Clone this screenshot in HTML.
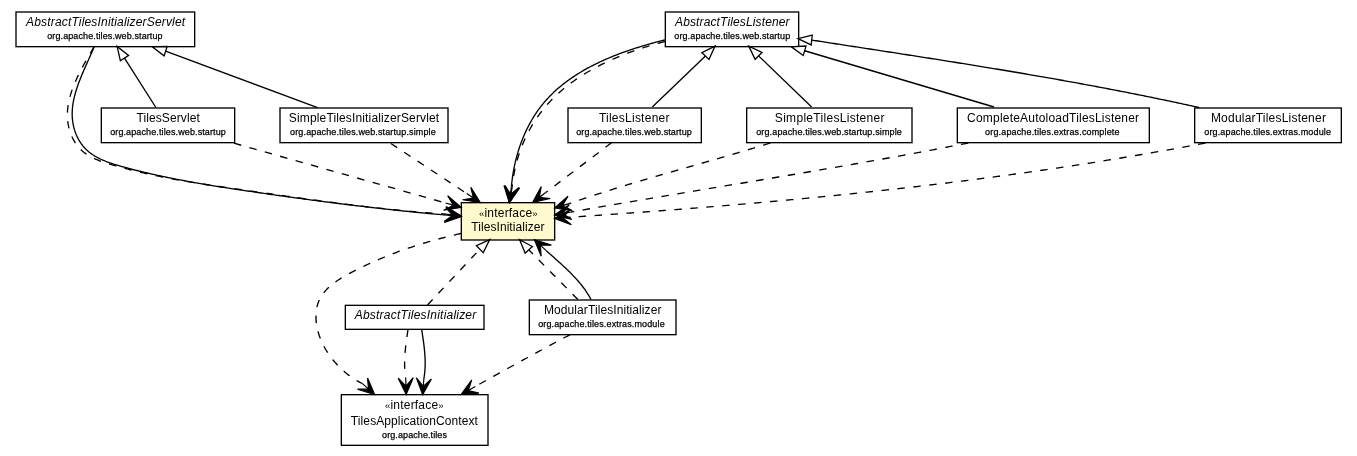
<!DOCTYPE html>
<html><head><meta charset="utf-8"><style>
html,body{margin:0;padding:0;background:#fff;}
svg{display:block;will-change:transform;}
text{font-family:"Liberation Sans",sans-serif;text-anchor:middle;fill:#000;}
.n{font-size:12px;}
.i{font-size:12px;font-style:italic;}
.g{font-size:9.5px;}
.p{font-size:9px;stroke:#000;stroke-width:0.25px;}
.es{fill:none;stroke:#000;stroke-width:1.333;}
.ed{fill:none;stroke:#000;stroke-width:1.333;stroke-dasharray:7.5 8.5;}
.v{fill:#000;stroke:#000;stroke-width:1.2;stroke-linejoin:miter;}
.t{fill:#fff;stroke:#000;stroke-width:1.3;stroke-linejoin:miter;}
</style></head><body>
<svg width="1357" height="456" viewBox="0 0 1357 456">
<rect x="16.000" y="12.000" width="178.667" height="34.667" fill="#fff" stroke="#000" stroke-width="1.333"/>
<rect x="101.333" y="108.000" width="133.333" height="34.667" fill="#fff" stroke="#000" stroke-width="1.333"/>
<rect x="280.000" y="108.000" width="168.000" height="34.667" fill="#fff" stroke="#000" stroke-width="1.333"/>
<rect x="665.333" y="12.000" width="133.333" height="34.667" fill="#fff" stroke="#000" stroke-width="1.333"/>
<rect x="568.000" y="108.000" width="133.333" height="34.667" fill="#fff" stroke="#000" stroke-width="1.333"/>
<rect x="746.667" y="108.000" width="165.333" height="34.667" fill="#fff" stroke="#000" stroke-width="1.333"/>
<rect x="957.333" y="108.000" width="192.000" height="34.667" fill="#fff" stroke="#000" stroke-width="1.333"/>
<rect x="1194.667" y="108.000" width="146.667" height="34.667" fill="#fff" stroke="#000" stroke-width="1.333"/>
<rect x="461.333" y="202.667" width="93.333" height="37.333" fill="#FFFACD" stroke="#000" stroke-width="1.333"/>
<rect x="345.333" y="305.333" width="138.667" height="24.000" fill="#fff" stroke="#000" stroke-width="1.333"/>
<rect x="529.333" y="300.000" width="146.667" height="34.667" fill="#fff" stroke="#000" stroke-width="1.333"/>
<rect x="341.333" y="394.667" width="146.667" height="50.667" fill="#fff" stroke="#000" stroke-width="1.333"/>
<path class="es" d="M94.00,47.00 L93.49,48.27 L92.96,49.56 L92.42,50.85 L91.86,52.16 L91.30,53.48 L90.72,54.81 L90.13,56.14 L89.53,57.49 L88.93,58.85 L88.31,60.21 L87.70,61.59 L87.08,62.97 L86.45,64.36 L85.83,65.76 L85.21,67.17 L84.58,68.59 L83.96,70.01 L83.34,71.44 L82.73,72.87 L82.12,74.31 L81.52,75.76 L80.92,77.21 L80.34,78.67 L79.76,80.13 L79.20,81.60 L78.65,83.07 L78.12,84.55 L77.60,86.03 L77.09,87.51 L76.60,89.00 L76.14,90.48 L75.69,91.98 L75.26,93.47 L74.86,94.97 L74.48,96.46 L74.12,97.96 L73.79,99.46 L73.49,100.97 L73.21,102.47 L72.97,103.97 L72.75,105.47 L72.57,106.97 L72.42,108.48 L72.31,109.98 L72.23,111.47 L72.18,112.97 L72.18,114.47 L72.21,115.96 L72.29,117.45 L72.40,118.94 L72.56,120.42 L72.75,121.90 L72.99,123.37 L73.26,124.83 L73.58,126.28 L73.93,127.72 L74.32,129.14 L74.75,130.55 L75.22,131.95 L75.73,133.33 L76.28,134.69 L76.87,136.03 L77.49,137.34 L78.15,138.64 L78.85,139.91 L79.58,141.16 L80.35,142.38 L81.16,143.57 L82.01,144.73 L82.89,145.86 L83.81,146.96 L84.76,148.03 L85.75,149.06 L86.78,150.05 L87.84,151.01 L88.93,151.93 L90.05,152.82 L91.21,153.67 L92.40,154.50 L93.61,155.29 L94.85,156.06 L96.12,156.79 L97.41,157.50 L98.72,158.19 L100.05,158.85 L101.41,159.48 L102.78,160.09 L104.18,160.68 L105.59,161.25 L107.01,161.81 L108.45,162.34 L109.90,162.86 L111.36,163.36 L112.84,163.85 L114.32,164.32 L115.81,164.78 L117.30,165.23 L118.81,165.67 L120.31,166.10 L121.82,166.52 L123.33,166.94 L124.84,167.35 L126.34,167.76 L127.85,168.16 L129.35,168.56 L130.86,168.95 L132.36,169.34 L133.86,169.73 L135.36,170.11 L136.86,170.48 L138.36,170.86 L139.85,171.23 L141.35,171.59 L142.84,171.96 L144.34,172.31 L145.83,172.67 L147.32,173.02 L148.81,173.37 L150.30,173.71 L151.79,174.05 L153.28,174.39 L154.76,174.72 L156.25,175.05 L157.73,175.38 L159.22,175.70 L160.70,176.02 L162.18,176.34 L163.67,176.65 L165.15,176.96 L166.63,177.27 L168.11,177.57 L169.59,177.88 L171.06,178.18 L172.54,178.47 L174.02,178.77 L175.50,179.06 L176.97,179.34 L178.45,179.63 L179.92,179.91 L181.40,180.19 L182.87,180.47 L184.35,180.75 L185.82,181.02 L187.29,181.29 L188.77,181.56 L190.24,181.83 L191.71,182.09 L193.18,182.35 L194.66,182.61 L196.13,182.87 L197.60,183.13 L199.07,183.38 L200.54,183.63 L202.01,183.88 L203.48,184.13 L204.95,184.38 L206.42,184.63 L207.90,184.87 L209.37,185.11 L210.84,185.35 L212.31,185.59 L213.78,185.83 L215.25,186.07 L216.72,186.30 L218.19,186.53 L219.66,186.77 L221.14,187.00 L222.61,187.23 L224.08,187.46 L225.55,187.69 L227.02,187.91 L228.50,188.14 L229.97,188.36 L231.44,188.59 L232.92,188.81 L234.39,189.04 L235.87,189.26 L237.34,189.48 L238.82,189.70 L240.30,189.92 L241.77,190.14 L243.25,190.36 L244.73,190.58 L246.21,190.80 L247.69,191.02 L249.17,191.24 L250.65,191.45 L252.13,191.67 L253.61,191.89 L255.09,192.11 L256.58,192.32 L258.06,192.54 L259.54,192.75 L261.03,192.97 L262.51,193.18 L264.00,193.40 L265.49,193.61 L266.97,193.83 L268.46,194.04 L269.95,194.25 L271.43,194.47 L272.92,194.68 L274.41,194.89 L275.90,195.10 L277.39,195.31 L278.88,195.52 L280.37,195.73 L281.86,195.94 L283.36,196.15 L284.85,196.36 L286.34,196.57 L287.83,196.78 L289.33,196.99 L290.82,197.19 L292.31,197.40 L293.81,197.60 L295.30,197.81 L296.80,198.02 L298.29,198.22 L299.79,198.42 L301.28,198.63 L302.78,198.83 L304.28,199.03 L305.77,199.23 L307.27,199.44 L308.77,199.64 L310.26,199.84 L311.76,200.04 L313.26,200.24 L314.76,200.43 L316.26,200.63 L317.76,200.83 L319.26,201.03 L320.75,201.22 L322.25,201.42 L323.75,201.61 L325.25,201.81 L326.75,202.00 L328.25,202.20 L329.75,202.39 L331.25,202.58 L332.75,202.77 L334.26,202.96 L335.76,203.15 L337.26,203.34 L338.76,203.53 L340.26,203.72 L341.76,203.91 L343.26,204.09 L344.76,204.28 L346.26,204.47 L347.77,204.65 L349.27,204.83 L350.77,205.02 L352.27,205.20 L353.77,205.38 L355.27,205.56 L356.77,205.75 L358.28,205.93 L359.78,206.10 L361.28,206.28 L362.78,206.46 L364.28,206.64 L365.78,206.81 L367.29,206.99 L368.79,207.17 L370.29,207.34 L371.79,207.51 L373.29,207.69 L374.79,207.86 L376.29,208.03 L377.79,208.20 L379.29,208.37 L380.79,208.54 L382.30,208.71 L383.80,208.87 L385.30,209.04 L386.80,209.20 L388.30,209.37 L389.80,209.53 L391.29,209.70 L392.79,209.86 L394.29,210.02 L395.79,210.18 L397.29,210.34 L398.79,210.50 L400.29,210.66 L401.78,210.81 L403.28,210.97 L404.78,211.13 L406.28,211.28 L407.77,211.43 L409.27,211.59 L410.77,211.74 L412.26,211.89 L413.76,212.04 L415.25,212.19 L416.75,212.34 L418.24,212.48 L419.74,212.63 L421.23,212.77 L422.73,212.92 L424.22,213.06 L425.71,213.21 L427.20,213.35 L428.70,213.49 L430.19,213.63 L431.68,213.77 L433.17,213.90 L434.66,214.04 L436.15,214.18 L437.64,214.31 L439.13,214.45 L440.62,214.58 L442.11,214.71 L443.59,214.84 L445.08,214.97"/>
<polygon class="v" points="461.30,216.60 445.83,207.51 453.19,215.79 445.08,214.97 453.19,215.79 444.33,222.43"/>
<path class="ed" d="M94.00,47.00 L93.31,48.19 L92.61,49.39 L91.89,50.60 L91.17,51.83 L90.45,53.07 L89.71,54.33 L88.98,55.59 L88.23,56.87 L87.49,58.17 L86.74,59.47 L85.99,60.78 L85.25,62.11 L84.50,63.44 L83.75,64.79 L83.01,66.14 L82.28,67.51 L81.55,68.88 L80.82,70.26 L80.10,71.66 L79.40,73.06 L78.70,74.46 L78.01,75.88 L77.33,77.30 L76.67,78.73 L76.02,80.17 L75.39,81.61 L74.77,83.06 L74.17,84.51 L73.59,85.97 L73.02,87.44 L72.48,88.91 L71.96,90.38 L71.46,91.86 L70.98,93.34 L70.53,94.82 L70.10,96.31 L69.70,97.80 L69.33,99.29 L68.99,100.79 L68.67,102.28 L68.39,103.78 L68.14,105.28 L67.92,106.78 L67.74,108.28 L67.59,109.78 L67.48,111.28 L67.40,112.78 L67.37,114.28 L67.37,115.78 L67.41,117.27 L67.49,118.77 L67.62,120.26 L67.78,121.74 L67.99,123.22 L68.23,124.69 L68.52,126.15 L68.84,127.59 L69.21,129.03 L69.61,130.45 L70.06,131.86 L70.54,133.25 L71.06,134.62 L71.63,135.97 L72.23,137.30 L72.87,138.61 L73.55,139.90 L74.27,141.16 L75.02,142.39 L75.82,143.59 L76.65,144.76 L77.53,145.91 L78.44,147.02 L79.38,148.09 L80.37,149.13 L81.39,150.14 L82.46,151.10 L83.55,152.03 L84.69,152.91 L85.86,153.76 L87.06,154.58 L88.29,155.35 L89.56,156.10 L90.85,156.81 L92.16,157.50 L93.50,158.15 L94.86,158.78 L96.25,159.39 L97.65,159.97 L99.07,160.53 L100.50,161.07 L101.95,161.60 L103.41,162.10 L104.88,162.59 L106.36,163.07 L107.85,163.53 L109.34,163.99 L110.83,164.43 L112.33,164.87 L113.83,165.30 L115.32,165.73 L116.82,166.15 L118.31,166.57 L119.80,166.98 L121.30,167.39 L122.79,167.79 L124.28,168.19 L125.77,168.58 L127.26,168.97 L128.75,169.35 L130.24,169.73 L131.73,170.11 L133.22,170.48 L134.71,170.85 L136.20,171.21 L137.69,171.56 L139.17,171.92 L140.66,172.27 L142.15,172.61 L143.63,172.95 L145.12,173.29 L146.60,173.63 L148.09,173.96 L149.57,174.28 L151.06,174.60 L152.54,174.92 L154.02,175.24 L155.51,175.55 L156.99,175.86 L158.47,176.16 L159.95,176.46 L161.43,176.76 L162.92,177.06 L164.40,177.35 L165.88,177.64 L167.36,177.93 L168.84,178.21 L170.32,178.49 L171.80,178.77 L173.28,179.04 L174.76,179.31 L176.24,179.58 L177.72,179.85 L179.20,180.11 L180.68,180.37 L182.16,180.63 L183.64,180.89 L185.12,181.14 L186.60,181.40 L188.08,181.65 L189.56,181.89 L191.04,182.14 L192.51,182.38 L193.99,182.62 L195.47,182.87 L196.95,183.10 L198.43,183.34 L199.91,183.57 L201.39,183.81 L202.87,184.04 L204.35,184.27 L205.83,184.50 L207.31,184.73 L208.79,184.95 L210.27,185.18 L211.75,185.40 L213.23,185.62 L214.71,185.84 L216.19,186.06 L217.67,186.28 L219.15,186.50 L220.63,186.72 L222.11,186.93 L223.59,187.15 L225.07,187.36 L226.55,187.58 L228.04,187.79 L229.52,188.01 L231.00,188.22 L232.48,188.43 L233.97,188.65 L235.45,188.86 L236.93,189.07 L238.42,189.28 L239.90,189.49 L241.39,189.70 L242.87,189.92 L244.36,190.13 L245.84,190.34 L247.33,190.55 L248.82,190.76 L250.30,190.98 L251.79,191.19 L253.28,191.40 L254.77,191.62 L256.26,191.83 L257.74,192.04 L259.23,192.26 L260.72,192.47 L262.21,192.68 L263.70,192.90 L265.19,193.11 L266.69,193.32 L268.18,193.53 L269.67,193.75 L271.16,193.96 L272.65,194.17 L274.14,194.39 L275.64,194.60 L277.13,194.81 L278.62,195.03 L280.12,195.24 L281.61,195.45 L283.11,195.66 L284.60,195.87 L286.10,196.09 L287.59,196.30 L289.09,196.51 L290.58,196.72 L292.08,196.93 L293.57,197.14 L295.07,197.35 L296.57,197.56 L298.06,197.77 L299.56,197.98 L301.06,198.19 L302.56,198.39 L304.05,198.60 L305.55,198.81 L307.05,199.02 L308.55,199.22 L310.05,199.43 L311.55,199.63 L313.05,199.84 L314.54,200.04 L316.04,200.25 L317.54,200.45 L319.04,200.65 L320.54,200.86 L322.04,201.06 L323.54,201.26 L325.04,201.46 L326.54,201.66 L328.04,201.86 L329.54,202.06 L331.05,202.25 L332.55,202.45 L334.05,202.65 L335.55,202.84 L337.05,203.04 L338.55,203.23 L340.05,203.43 L341.55,203.62 L343.06,203.81 L344.56,204.00 L346.06,204.19 L347.56,204.38 L349.06,204.57 L350.57,204.75 L352.07,204.94 L353.57,205.13 L355.07,205.31 L356.57,205.49 L358.08,205.68 L359.58,205.86 L361.08,206.04 L362.58,206.22 L364.09,206.40 L365.59,206.57 L367.09,206.75 L368.59,206.92 L370.10,207.10 L371.60,207.27 L373.10,207.44 L374.60,207.61 L376.11,207.78 L377.61,207.95 L379.11,208.12 L380.61,208.28 L382.12,208.45 L383.62,208.61 L385.12,208.77 L386.62,208.94 L388.12,209.09 L389.63,209.25 L391.13,209.41 L392.63,209.57 L394.13,209.72 L395.63,209.87 L397.14,210.02 L398.64,210.17 L400.14,210.32 L401.64,210.47 L403.14,210.62 L404.64,210.76 L406.14,210.90 L407.64,211.04 L409.15,211.18 L410.65,211.32 L412.15,211.46 L413.65,211.59 L415.15,211.73 L416.65,211.86 L418.15,211.99 L419.65,212.12 L421.15,212.24 L422.65,212.37 L424.15,212.49 L425.65,212.62 L427.15,212.74 L428.64,212.85 L430.14,212.97 L431.64,213.09 L433.14,213.20 L434.64,213.31 L436.14,213.42 L437.63,213.53 L439.13,213.63 L440.63,213.74 L442.12,213.84 L443.62,213.94 L445.12,214.04"/>
<polygon class="v" points="461.30,216.00 446.02,206.59 453.21,215.02 445.12,214.04 453.21,215.02 444.22,221.48"/>
<path class="es" d="M664.90,39.90 L663.49,40.25 L662.09,40.61 L660.67,40.97 L659.26,41.34 L657.84,41.71 L656.41,42.08 L654.99,42.47 L653.56,42.85 L652.12,43.25 L650.69,43.64 L649.25,44.05 L647.81,44.46 L646.37,44.87 L644.93,45.30 L643.48,45.72 L642.03,46.16 L640.59,46.60 L639.14,47.04 L637.69,47.50 L636.24,47.96 L634.79,48.42 L633.34,48.89 L631.89,49.37 L630.43,49.86 L628.98,50.35 L627.54,50.85 L626.09,51.35 L624.64,51.87 L623.19,52.39 L621.75,52.91 L620.31,53.45 L618.86,53.99 L617.43,54.54 L615.99,55.10 L614.55,55.66 L613.12,56.24 L611.69,56.82 L610.27,57.40 L608.85,58.00 L607.43,58.60 L606.01,59.22 L604.60,59.84 L603.19,60.47 L601.79,61.10 L600.39,61.75 L599.00,62.40 L597.61,63.07 L596.23,63.74 L594.85,64.42 L593.48,65.11 L592.11,65.81 L590.75,66.51 L589.39,67.23 L588.05,67.95 L586.70,68.69 L585.37,69.43 L584.04,70.19 L582.72,70.95 L581.41,71.72 L580.10,72.51 L578.80,73.30 L577.51,74.10 L576.23,74.91 L574.96,75.74 L573.69,76.57 L572.44,77.41 L571.19,78.26 L569.95,79.13 L568.72,80.00 L567.51,80.88 L566.30,81.78 L565.10,82.68 L563.91,83.60 L562.73,84.53 L561.56,85.46 L560.41,86.41 L559.26,87.37 L558.13,88.35 L557.00,89.33 L555.89,90.32 L554.79,91.33 L553.71,92.34 L552.63,93.37 L551.57,94.41 L550.52,95.46 L549.48,96.53 L548.46,97.60 L547.45,98.69 L546.45,99.79 L545.47,100.90 L544.50,102.03 L543.54,103.16 L542.60,104.31 L541.67,105.47 L540.76,106.65 L539.86,107.83 L538.98,109.03 L538.11,110.23 L537.25,111.45 L536.41,112.68 L535.58,113.92 L534.76,115.17 L533.96,116.43 L533.18,117.70 L532.40,118.98 L531.64,120.27 L530.90,121.57 L530.17,122.87 L529.45,124.19 L528.75,125.52 L528.06,126.85 L527.38,128.19 L526.72,129.55 L526.07,130.91 L525.44,132.27 L524.81,133.65 L524.21,135.03 L523.61,136.42 L523.03,137.81 L522.47,139.22 L521.91,140.63 L521.38,142.04 L520.85,143.47 L520.34,144.90 L519.84,146.33 L519.35,147.77 L518.88,149.22 L518.42,150.67 L517.98,152.12 L517.55,153.58 L517.13,155.05 L516.73,156.52 L516.34,157.99 L515.96,159.47 L515.59,160.95 L515.24,162.44 L514.91,163.93 L514.58,165.42 L514.27,166.91 L513.97,168.41 L513.69,169.91 L513.42,171.42 L513.16,172.92 L512.91,174.43 L512.68,175.94 L512.46,177.45 L512.26,178.96 L512.06,180.48 L511.88,181.99 L511.72,183.51 L511.56,185.02 L511.42,186.54"/>
<polygon class="v" points="509.30,202.70 518.86,187.52 510.36,194.62 511.42,186.54 510.36,194.62 503.99,185.56"/>
<path class="ed" d="M664.90,41.50 L663.48,41.87 L662.06,42.24 L660.64,42.62 L659.21,43.00 L657.78,43.40 L656.35,43.80 L654.92,44.20 L653.48,44.61 L652.05,45.03 L650.61,45.45 L649.17,45.89 L647.73,46.32 L646.29,46.77 L644.85,47.22 L643.41,47.68 L641.97,48.14 L640.52,48.62 L639.08,49.10 L637.64,49.58 L636.20,50.08 L634.76,50.58 L633.32,51.09 L631.88,51.60 L630.44,52.12 L629.00,52.65 L627.56,53.19 L626.13,53.74 L624.70,54.29 L623.26,54.85 L621.84,55.42 L620.41,55.99 L618.98,56.58 L617.56,57.17 L616.14,57.77 L614.73,58.38 L613.31,58.99 L611.90,59.61 L610.50,60.25 L609.10,60.89 L607.70,61.53 L606.30,62.19 L604.91,62.85 L603.52,63.53 L602.14,64.21 L600.77,64.90 L599.39,65.59 L598.03,66.30 L596.66,67.02 L595.31,67.74 L593.96,68.47 L592.61,69.21 L591.27,69.96 L589.94,70.72 L588.61,71.49 L587.29,72.27 L585.97,73.05 L584.66,73.85 L583.36,74.65 L582.07,75.47 L580.78,76.29 L579.50,77.12 L578.23,77.96 L576.97,78.81 L575.71,79.67 L574.47,80.54 L573.23,81.42 L571.99,82.31 L570.77,83.21 L569.56,84.12 L568.35,85.04 L567.16,85.96 L565.97,86.90 L564.80,87.85 L563.63,88.81 L562.47,89.77 L561.33,90.75 L560.19,91.74 L559.06,92.74 L557.95,93.74 L556.84,94.76 L555.75,95.79 L554.66,96.83 L553.59,97.88 L552.53,98.94 L551.48,100.01 L550.44,101.09 L549.42,102.18 L548.41,103.29 L547.41,104.40 L546.42,105.53 L545.44,106.66 L544.48,107.81 L543.53,108.96 L542.59,110.13 L541.66,111.31 L540.75,112.49 L539.85,113.69 L538.97,114.90 L538.09,116.11 L537.23,117.34 L536.39,118.58 L535.55,119.82 L534.73,121.08 L533.92,122.34 L533.13,123.61 L532.35,124.90 L531.58,126.19 L530.83,127.49 L530.09,128.79 L529.36,130.11 L528.65,131.43 L527.95,132.77 L527.27,134.11 L526.59,135.45 L525.94,136.81 L525.29,138.17 L524.66,139.55 L524.05,140.92 L523.45,142.31 L522.86,143.70 L522.29,145.10 L521.73,146.51 L521.19,147.92 L520.66,149.35 L520.14,150.77 L519.64,152.21 L519.16,153.64 L518.69,155.09 L518.23,156.54 L517.79,158.00 L517.36,159.46 L516.95,160.93 L516.55,162.41 L516.17,163.89 L515.80,165.37 L515.45,166.86 L515.11,168.36 L514.79,169.86 L514.48,171.36 L514.19,172.87 L513.92,174.38 L513.66,175.90 L513.41,177.42 L513.18,178.95 L512.97,180.48 L512.77,182.01 L512.59,183.55 L512.42,185.09 L512.27,186.64"/>
<polygon class="v" points="509.50,202.70 519.66,187.91 510.89,194.67 512.27,186.64 510.89,194.67 504.88,185.36"/>
<path class="ed" d="M234.00,143.20L445.61,202.97"/>
<polygon class="v" points="461.30,207.40 447.66,195.75 453.46,205.18 445.61,202.97 453.46,205.18 443.57,210.18"/>
<path class="ed" d="M390.90,143.50L466.70,193.52"/>
<polygon class="v" points="480.30,202.50 470.83,187.26 473.50,198.01 466.70,193.52 473.50,198.01 462.56,199.78"/>
<path class="ed" d="M611.50,142.80L545.74,192.52"/>
<polygon class="v" points="532.70,202.30 550.24,198.52 539.22,197.41 545.74,192.52 539.22,197.41 541.24,186.52"/>
<path class="ed" d="M770.30,143.00 L768.85,143.45 L767.41,143.90 L765.96,144.35 L764.51,144.79 L763.06,145.24 L761.61,145.68 L760.16,146.12 L758.71,146.57 L757.26,147.01 L755.81,147.45 L754.36,147.88 L752.91,148.32 L751.46,148.76 L750.01,149.19 L748.56,149.63 L747.11,150.06 L745.66,150.49 L744.20,150.93 L742.75,151.36 L741.30,151.79 L739.84,152.21 L738.39,152.64 L736.94,153.07 L735.48,153.50 L734.03,153.92 L732.58,154.35 L731.12,154.77 L729.67,155.20 L728.21,155.62 L726.76,156.04 L725.30,156.47 L723.85,156.89 L722.39,157.31 L720.94,157.73 L719.48,158.15 L718.02,158.57 L716.57,158.99 L715.11,159.41 L713.66,159.83 L712.20,160.24 L710.74,160.66 L709.29,161.08 L707.83,161.50 L706.37,161.91 L704.92,162.33 L703.46,162.75 L702.00,163.16 L700.54,163.58 L699.09,164.00 L697.63,164.41 L696.17,164.83 L694.72,165.24 L693.26,165.66 L691.80,166.07 L690.35,166.49 L688.89,166.91 L687.43,167.32 L685.97,167.74 L684.52,168.15 L683.06,168.57 L681.60,168.99 L680.15,169.40 L678.69,169.82 L677.23,170.24 L675.78,170.65 L674.32,171.07 L672.86,171.49 L671.41,171.90 L669.95,172.32 L668.49,172.74 L667.04,173.16 L665.58,173.58 L664.13,174.00 L662.67,174.42 L661.21,174.84 L659.76,175.26 L658.30,175.68 L656.85,176.11 L655.39,176.53 L653.94,176.95 L652.49,177.38 L651.03,177.80 L649.58,178.23 L648.12,178.65 L646.67,179.08 L645.22,179.51 L643.76,179.93 L642.31,180.36 L640.86,180.79 L639.40,181.22 L637.95,181.66 L636.50,182.09 L635.05,182.52 L633.60,182.96 L632.15,183.39 L630.69,183.83 L629.24,184.26 L627.79,184.70 L626.34,185.14 L624.89,185.58 L623.45,186.02 L622.00,186.47 L620.55,186.91 L619.10,187.36 L617.65,187.80 L616.20,188.25 L614.76,188.70 L613.31,189.15 L611.86,189.60 L610.42,190.05 L608.97,190.51 L607.53,190.96 L606.08,191.42 L604.64,191.88 L603.20,192.34 L601.75,192.80 L600.31,193.26 L598.87,193.72 L597.42,194.19 L595.98,194.66 L594.54,195.12 L593.10,195.59 L591.66,196.07 L590.22,196.54 L588.78,197.01 L587.34,197.49 L585.91,197.97 L584.47,198.45 L583.03,198.93 L581.60,199.42 L580.16,199.90 L578.72,200.39 L577.29,200.88 L575.86,201.37 L574.42,201.86 L572.99,202.36 L571.56,202.86 L570.12,203.36"/>
<polygon class="v" points="554.50,208.00 572.26,210.55 562.31,205.68 570.12,203.36 562.31,205.68 567.99,196.17"/>
<path class="ed" d="M968.30,143.00 L966.82,143.29 L965.34,143.58 L963.86,143.86 L962.39,144.15 L960.91,144.44 L959.43,144.73 L957.95,145.01 L956.47,145.30 L954.99,145.58 L953.51,145.87 L952.03,146.15 L950.55,146.43 L949.07,146.72 L947.59,147.00 L946.11,147.28 L944.63,147.57 L943.15,147.85 L941.67,148.13 L940.19,148.41 L938.71,148.69 L937.23,148.97 L935.75,149.25 L934.27,149.53 L932.79,149.80 L931.31,150.08 L929.83,150.36 L928.35,150.64 L926.87,150.91 L925.39,151.19 L923.91,151.47 L922.43,151.74 L920.95,152.02 L919.47,152.29 L917.98,152.57 L916.50,152.84 L915.02,153.11 L913.54,153.39 L912.06,153.66 L910.58,153.93 L909.10,154.20 L907.61,154.48 L906.13,154.75 L904.65,155.02 L903.17,155.29 L901.69,155.56 L900.21,155.83 L898.72,156.10 L897.24,156.37 L895.76,156.64 L894.28,156.90 L892.79,157.17 L891.31,157.44 L889.83,157.71 L888.35,157.97 L886.87,158.24 L885.38,158.51 L883.90,158.77 L882.42,159.04 L880.93,159.30 L879.45,159.57 L877.97,159.83 L876.49,160.10 L875.00,160.36 L873.52,160.63 L872.04,160.89 L870.55,161.15 L869.07,161.42 L867.59,161.68 L866.10,161.94 L864.62,162.20 L863.14,162.46 L861.65,162.73 L860.17,162.99 L858.69,163.25 L857.20,163.51 L855.72,163.77 L854.24,164.03 L852.75,164.29 L851.27,164.55 L849.78,164.81 L848.30,165.07 L846.82,165.32 L845.33,165.58 L843.85,165.84 L842.36,166.10 L840.88,166.36 L839.40,166.61 L837.91,166.87 L836.43,167.13 L834.94,167.39 L833.46,167.64 L831.98,167.90 L830.49,168.15 L829.01,168.41 L827.52,168.67 L826.04,168.92 L824.55,169.18 L823.07,169.43 L821.58,169.69 L820.10,169.94 L818.61,170.20 L817.13,170.45 L815.64,170.70 L814.16,170.96 L812.67,171.21 L811.19,171.47 L809.70,171.72 L808.22,171.97 L806.73,172.22 L805.25,172.48 L803.76,172.73 L802.28,172.98 L800.79,173.23 L799.31,173.49 L797.82,173.74 L796.34,173.99 L794.85,174.24 L793.37,174.49 L791.88,174.74 L790.40,175.00 L788.91,175.25 L787.43,175.50 L785.94,175.75 L784.46,176.00 L782.97,176.25 L781.49,176.50 L780.00,176.75 L778.51,177.00 L777.03,177.25 L775.54,177.50 L774.06,177.75 L772.57,178.00 L771.09,178.25 L769.60,178.50 L768.12,178.75 L766.63,179.00 L765.14,179.24 L763.66,179.49 L762.17,179.74 L760.69,179.99 L759.20,180.24 L757.72,180.49 L756.23,180.74 L754.74,180.99 L753.26,181.23 L751.77,181.48 L750.29,181.73 L748.80,181.98 L747.31,182.23 L745.83,182.47 L744.34,182.72 L742.86,182.97 L741.37,183.22 L739.89,183.47 L738.40,183.71 L736.91,183.96 L735.43,184.21 L733.94,184.46 L732.46,184.70 L730.97,184.95 L729.48,185.20 L728.00,185.45 L726.51,185.70 L725.03,185.94 L723.54,186.19 L722.05,186.44 L720.57,186.69 L719.08,186.93 L717.60,187.18 L716.11,187.43 L714.62,187.67 L713.14,187.92 L711.65,188.17 L710.17,188.42 L708.68,188.66 L707.19,188.91 L705.71,189.16 L704.22,189.41 L702.74,189.65 L701.25,189.90 L699.76,190.15 L698.28,190.40 L696.79,190.65 L695.31,190.89 L693.82,191.14 L692.33,191.39 L690.85,191.64 L689.36,191.88 L687.88,192.13 L686.39,192.38 L684.91,192.63 L683.42,192.88 L681.93,193.12 L680.45,193.37 L678.96,193.62 L677.48,193.87 L675.99,194.12 L674.50,194.37 L673.02,194.62 L671.53,194.86 L670.05,195.11 L668.56,195.36 L667.08,195.61 L665.59,195.86 L664.10,196.11 L662.62,196.36 L661.13,196.61 L659.65,196.86 L658.16,197.11 L656.68,197.36 L655.19,197.61 L653.70,197.86 L652.22,198.11 L650.73,198.36 L649.25,198.61 L647.76,198.86 L646.28,199.11 L644.79,199.36 L643.31,199.61 L641.82,199.86 L640.34,200.11 L638.85,200.36 L637.37,200.61 L635.88,200.87 L634.39,201.12 L632.91,201.37 L631.42,201.62 L629.94,201.87 L628.45,202.13 L626.97,202.38 L625.48,202.63 L624.00,202.88 L622.51,203.14 L621.03,203.39 L619.54,203.64 L618.06,203.90 L616.57,204.15 L615.09,204.41 L613.60,204.66 L612.12,204.91 L610.64,205.17 L609.15,205.42 L607.67,205.68 L606.18,205.93 L604.70,206.19 L603.21,206.44 L601.73,206.70 L600.24,206.96 L598.76,207.21 L597.27,207.47 L595.79,207.73 L594.31,207.98 L592.82,208.24 L591.34,208.50 L589.85,208.76 L588.37,209.01 L586.88,209.27 L585.40,209.53 L583.92,209.79 L582.43,210.05 L580.95,210.31 L579.47,210.57 L577.98,210.83 L576.50,211.09 L575.01,211.35 L573.53,211.61 L572.05,211.87 L570.56,212.13"/>
<polygon class="v" points="554.50,214.90 571.84,219.52 562.53,213.52 570.56,212.13 562.53,213.52 569.29,204.74"/>
<path class="ed" d="M1205.40,143.00 L1203.92,143.28 L1202.44,143.56 L1200.96,143.84 L1199.48,144.12 L1198.00,144.40 L1196.53,144.68 L1195.05,144.96 L1193.57,145.23 L1192.09,145.51 L1190.61,145.78 L1189.13,146.06 L1187.65,146.33 L1186.17,146.61 L1184.69,146.88 L1183.21,147.15 L1181.73,147.42 L1180.25,147.69 L1178.77,147.97 L1177.28,148.23 L1175.80,148.50 L1174.32,148.77 L1172.84,149.04 L1171.36,149.31 L1169.88,149.57 L1168.40,149.84 L1166.92,150.10 L1165.44,150.37 L1163.95,150.63 L1162.47,150.90 L1160.99,151.16 L1159.51,151.42 L1158.03,151.68 L1156.55,151.94 L1155.06,152.20 L1153.58,152.46 L1152.10,152.72 L1150.62,152.98 L1149.13,153.24 L1147.65,153.50 L1146.17,153.75 L1144.69,154.01 L1143.20,154.26 L1141.72,154.52 L1140.24,154.77 L1138.75,155.02 L1137.27,155.28 L1135.79,155.53 L1134.30,155.78 L1132.82,156.03 L1131.34,156.28 L1129.85,156.53 L1128.37,156.78 L1126.89,157.03 L1125.40,157.28 L1123.92,157.52 L1122.43,157.77 L1120.95,158.02 L1119.46,158.26 L1117.98,158.51 L1116.50,158.75 L1115.01,159.00 L1113.53,159.24 L1112.04,159.48 L1110.56,159.72 L1109.07,159.96 L1107.59,160.20 L1106.10,160.45 L1104.62,160.68 L1103.13,160.92 L1101.65,161.16 L1100.16,161.40 L1098.68,161.64 L1097.19,161.87 L1095.70,162.11 L1094.22,162.35 L1092.73,162.58 L1091.25,162.81 L1089.76,163.05 L1088.27,163.28 L1086.79,163.51 L1085.30,163.75 L1083.82,163.98 L1082.33,164.21 L1080.84,164.44 L1079.36,164.67 L1077.87,164.90 L1076.38,165.13 L1074.90,165.35 L1073.41,165.58 L1071.92,165.81 L1070.43,166.03 L1068.95,166.26 L1067.46,166.49 L1065.97,166.71 L1064.49,166.93 L1063.00,167.16 L1061.51,167.38 L1060.02,167.60 L1058.53,167.82 L1057.05,168.05 L1055.56,168.27 L1054.07,168.49 L1052.58,168.71 L1051.09,168.93 L1049.61,169.14 L1048.12,169.36 L1046.63,169.58 L1045.14,169.80 L1043.65,170.01 L1042.16,170.23 L1040.68,170.44 L1039.19,170.66 L1037.70,170.87 L1036.21,171.09 L1034.72,171.30 L1033.23,171.51 L1031.74,171.73 L1030.25,171.94 L1028.76,172.15 L1027.27,172.36 L1025.78,172.57 L1024.30,172.78 L1022.81,172.99 L1021.32,173.19 L1019.83,173.40 L1018.34,173.61 L1016.85,173.82 L1015.36,174.02 L1013.87,174.23 L1012.38,174.43 L1010.89,174.64 L1009.40,174.84 L1007.91,175.05 L1006.42,175.25 L1004.93,175.45 L1003.43,175.65 L1001.94,175.86 L1000.45,176.06 L998.96,176.26 L997.47,176.46 L995.98,176.66 L994.49,176.86 L993.00,177.06 L991.51,177.25 L990.02,177.45 L988.53,177.65 L987.03,177.85 L985.54,178.04 L984.05,178.24 L982.56,178.43 L981.07,178.63 L979.58,178.82 L978.09,179.01 L976.59,179.21 L975.10,179.40 L973.61,179.59 L972.12,179.78 L970.63,179.98 L969.13,180.17 L967.64,180.36 L966.15,180.55 L964.66,180.74 L963.17,180.92 L961.67,181.11 L960.18,181.30 L958.69,181.49 L957.20,181.67 L955.70,181.86 L954.21,182.05 L952.72,182.23 L951.23,182.42 L949.73,182.60 L948.24,182.79 L946.75,182.97 L945.25,183.15 L943.76,183.33 L942.27,183.52 L940.77,183.70 L939.28,183.88 L937.79,184.06 L936.29,184.24 L934.80,184.42 L933.31,184.60 L931.81,184.78 L930.32,184.96 L928.83,185.14 L927.33,185.31 L925.84,185.49 L924.34,185.67 L922.85,185.84 L921.36,186.02 L919.86,186.19 L918.37,186.37 L916.87,186.54 L915.38,186.72 L913.89,186.89 L912.39,187.06 L910.90,187.24 L909.40,187.41 L907.91,187.58 L906.41,187.75 L904.92,187.92 L903.42,188.09 L901.93,188.26 L900.44,188.43 L898.94,188.60 L897.45,188.77 L895.95,188.94 L894.46,189.11 L892.96,189.27 L891.47,189.44 L889.97,189.61 L888.48,189.77 L886.98,189.94 L885.49,190.10 L883.99,190.27 L882.49,190.43 L881.00,190.60 L879.50,190.76 L878.01,190.92 L876.51,191.09 L875.02,191.25 L873.52,191.41 L872.03,191.57 L870.53,191.73 L869.03,191.89 L867.54,192.05 L866.04,192.21 L864.55,192.37 L863.05,192.53 L861.55,192.69 L860.06,192.85 L858.56,193.01 L857.07,193.17 L855.57,193.32 L854.07,193.48 L852.58,193.64 L851.08,193.79 L849.58,193.95 L848.09,194.10 L846.59,194.26 L845.10,194.41 L843.60,194.56 L842.10,194.72 L840.61,194.87 L839.11,195.02 L837.61,195.18 L836.12,195.33 L834.62,195.48 L833.12,195.63 L831.62,195.78 L830.13,195.93 L828.63,196.08 L827.13,196.23 L825.64,196.38 L824.14,196.53 L822.64,196.68 L821.15,196.83 L819.65,196.97 L818.15,197.12 L816.65,197.27 L815.16,197.41 L813.66,197.56 L812.16,197.71 L810.66,197.85 L809.17,198.00 L807.67,198.14 L806.17,198.29 L804.67,198.43 L803.18,198.57 L801.68,198.72 L800.18,198.86 L798.68,199.00 L797.19,199.15 L795.69,199.29 L794.19,199.43 L792.69,199.57 L791.19,199.71 L789.70,199.85 L788.20,199.99 L786.70,200.13 L785.20,200.27 L783.70,200.41 L782.21,200.55 L780.71,200.69 L779.21,200.83 L777.71,200.96 L776.21,201.10 L774.71,201.24 L773.22,201.37 L771.72,201.51 L770.22,201.65 L768.72,201.78 L767.22,201.92 L765.72,202.05 L764.22,202.19 L762.73,202.32 L761.23,202.46 L759.73,202.59 L758.23,202.72 L756.73,202.86 L755.23,202.99 L753.73,203.12 L752.24,203.25 L750.74,203.38 L749.24,203.52 L747.74,203.65 L746.24,203.78 L744.74,203.91 L743.24,204.04 L741.74,204.17 L740.24,204.30 L738.75,204.43 L737.25,204.56 L735.75,204.68 L734.25,204.81 L732.75,204.94 L731.25,205.07 L729.75,205.20 L728.25,205.32 L726.75,205.45 L725.25,205.58 L723.75,205.70 L722.25,205.83 L720.76,205.95 L719.26,206.08 L717.76,206.20 L716.26,206.33 L714.76,206.45 L713.26,206.58 L711.76,206.70 L710.26,206.82 L708.76,206.95 L707.26,207.07 L705.76,207.19 L704.26,207.31 L702.76,207.44 L701.26,207.56 L699.76,207.68 L698.26,207.80 L696.76,207.92 L695.26,208.04 L693.76,208.16 L692.26,208.28 L690.76,208.40 L689.26,208.52 L687.76,208.64 L686.27,208.76 L684.77,208.88 L683.27,209.00 L681.77,209.11 L680.27,209.23 L678.77,209.35 L677.27,209.47 L675.77,209.58 L674.27,209.70 L672.77,209.82 L671.27,209.93 L669.77,210.05 L668.27,210.17 L666.77,210.28 L665.27,210.40 L663.77,210.51 L662.27,210.63 L660.77,210.74 L659.27,210.85 L657.77,210.97 L656.27,211.08 L654.77,211.20 L653.27,211.31 L651.77,211.42 L650.27,211.53 L648.77,211.65 L647.27,211.76 L645.76,211.87 L644.26,211.98 L642.76,212.09 L641.26,212.20 L639.76,212.32 L638.26,212.43 L636.76,212.54 L635.26,212.65 L633.76,212.76 L632.26,212.87 L630.76,212.98 L629.26,213.09 L627.76,213.19 L626.26,213.30 L624.76,213.41 L623.26,213.52 L621.76,213.63 L620.26,213.74 L618.76,213.84 L617.26,213.95 L615.76,214.06 L614.26,214.17 L612.76,214.27 L611.26,214.38 L609.76,214.49 L608.26,214.59 L606.76,214.70 L605.26,214.80 L603.76,214.91 L602.26,215.01 L600.76,215.12 L599.25,215.22 L597.75,215.33 L596.25,215.43 L594.75,215.54 L593.25,215.64 L591.75,215.75 L590.25,215.85 L588.75,215.95 L587.25,216.06 L585.75,216.16 L584.25,216.26 L582.75,216.37 L581.25,216.47 L579.75,216.57 L578.25,216.67 L576.75,216.77 L575.25,216.88 L573.75,216.98 L572.25,217.08 L570.75,217.18"/>
<polygon class="v" points="554.50,218.50 571.35,224.66 562.62,217.84 570.75,217.18 562.62,217.84 570.14,209.70"/>
<path class="es" d="M155.90,107.50L124.50,58.05"/>
<polygon class="t" points="117.10,46.40 120.36,60.68 128.63,55.42"/>
<path class="es" d="M317.50,107.70L165.62,51.18"/>
<polygon class="t" points="152.50,46.90 164.10,55.84 167.14,46.52"/>
<path class="es" d="M652.30,107.00L705.45,56.06"/>
<polygon class="t" points="715.00,46.10 701.91,52.67 708.99,59.45"/>
<path class="es" d="M811.60,107.00L758.56,55.86"/>
<polygon class="t" points="748.80,46.10 755.09,59.32 762.02,52.39"/>
<path class="es" d="M994.00,107.00L804.65,50.76"/>
<polygon class="t" points="791.40,46.90 803.28,55.47 806.02,46.06"/>
<path class="es" d="M1199.30,107.60 L1197.83,107.27 L1196.36,106.95 L1194.88,106.62 L1193.41,106.29 L1191.94,105.97 L1190.47,105.65 L1188.99,105.32 L1187.52,105.00 L1186.05,104.68 L1184.57,104.36 L1183.10,104.04 L1181.63,103.72 L1180.15,103.41 L1178.68,103.09 L1177.20,102.77 L1175.73,102.46 L1174.25,102.14 L1172.78,101.83 L1171.31,101.52 L1169.83,101.20 L1168.36,100.89 L1166.88,100.58 L1165.40,100.27 L1163.93,99.96 L1162.45,99.65 L1160.98,99.35 L1159.50,99.04 L1158.03,98.73 L1156.55,98.43 L1155.07,98.12 L1153.60,97.82 L1152.12,97.52 L1150.64,97.21 L1149.17,96.91 L1147.69,96.61 L1146.21,96.31 L1144.73,96.01 L1143.26,95.71 L1141.78,95.41 L1140.30,95.11 L1138.82,94.82 L1137.34,94.52 L1135.87,94.23 L1134.39,93.93 L1132.91,93.64 L1131.43,93.34 L1129.95,93.05 L1128.47,92.76 L1126.99,92.47 L1125.51,92.18 L1124.03,91.89 L1122.56,91.60 L1121.08,91.31 L1119.60,91.02 L1118.12,90.73 L1116.64,90.45 L1115.16,90.16 L1113.68,89.88 L1112.20,89.59 L1110.71,89.31 L1109.23,89.02 L1107.75,88.74 L1106.27,88.46 L1104.79,88.18 L1103.31,87.89 L1101.83,87.61 L1100.35,87.33 L1098.87,87.05 L1097.39,86.78 L1095.90,86.50 L1094.42,86.22 L1092.94,85.94 L1091.46,85.67 L1089.98,85.39 L1088.49,85.12 L1087.01,84.84 L1085.53,84.57 L1084.05,84.29 L1082.56,84.02 L1081.08,83.75 L1079.60,83.48 L1078.12,83.21 L1076.63,82.93 L1075.15,82.66 L1073.67,82.39 L1072.18,82.13 L1070.70,81.86 L1069.22,81.59 L1067.73,81.32 L1066.25,81.05 L1064.76,80.79 L1063.28,80.52 L1061.80,80.26 L1060.31,79.99 L1058.83,79.73 L1057.34,79.46 L1055.86,79.20 L1054.37,78.94 L1052.89,78.67 L1051.40,78.41 L1049.92,78.15 L1048.44,77.89 L1046.95,77.63 L1045.47,77.37 L1043.98,77.11 L1042.49,76.85 L1041.01,76.59 L1039.52,76.33 L1038.04,76.08 L1036.55,75.82 L1035.07,75.56 L1033.58,75.31 L1032.10,75.05 L1030.61,74.80 L1029.12,74.54 L1027.64,74.29 L1026.15,74.03 L1024.67,73.78 L1023.18,73.52 L1021.69,73.27 L1020.21,73.02 L1018.72,72.77 L1017.23,72.52 L1015.75,72.26 L1014.26,72.01 L1012.77,71.76 L1011.29,71.51 L1009.80,71.26 L1008.31,71.01 L1006.82,70.76 L1005.34,70.52 L1003.85,70.27 L1002.36,70.02 L1000.88,69.77 L999.39,69.53 L997.90,69.28 L996.41,69.03 L994.93,68.79 L993.44,68.54 L991.95,68.30 L990.46,68.05 L988.97,67.81 L987.49,67.56 L986.00,67.32 L984.51,67.07 L983.02,66.83 L981.53,66.59 L980.05,66.34 L978.56,66.10 L977.07,65.86 L975.58,65.62 L974.09,65.38 L972.60,65.14 L971.12,64.89 L969.63,64.65 L968.14,64.41 L966.65,64.17 L965.16,63.93 L963.67,63.69 L962.18,63.46 L960.69,63.22 L959.21,62.98 L957.72,62.74 L956.23,62.50 L954.74,62.26 L953.25,62.03 L951.76,61.79 L950.27,61.55 L948.78,61.31 L947.29,61.08 L945.80,60.84 L944.31,60.61 L942.83,60.37 L941.34,60.13 L939.85,59.90 L938.36,59.66 L936.87,59.43 L935.38,59.19 L933.89,58.96 L932.40,58.72 L930.91,58.49 L929.42,58.26 L927.93,58.02 L926.44,57.79 L924.95,57.55 L923.46,57.32 L921.97,57.09 L920.48,56.86 L918.99,56.62 L917.50,56.39 L916.01,56.16 L914.52,55.92 L913.03,55.69 L911.54,55.46 L910.05,55.23 L908.56,55.00 L907.07,54.77 L905.58,54.53 L904.09,54.30 L902.60,54.07 L901.11,53.84 L899.62,53.61 L898.13,53.38 L896.64,53.15 L895.15,52.92 L893.66,52.69 L892.17,52.46 L890.68,52.23 L889.19,52.00 L887.70,51.77 L886.21,51.54 L884.72,51.31 L883.23,51.08 L881.74,50.85 L880.25,50.62 L878.76,50.39 L877.27,50.16 L875.78,49.93 L874.29,49.70 L872.80,49.47 L871.31,49.24 L869.82,49.01 L868.33,48.78 L866.84,48.55 L865.35,48.32 L863.86,48.10 L862.37,47.87 L860.88,47.64 L859.39,47.41 L857.90,47.18 L856.41,46.95 L854.92,46.72 L853.43,46.49 L851.94,46.26 L850.45,46.04 L848.96,45.81 L847.47,45.58 L845.98,45.35 L844.49,45.12 L843.00,44.89 L841.51,44.66 L840.02,44.43 L838.53,44.20 L837.04,43.98 L835.55,43.75 L834.06,43.52 L832.57,43.29 L831.08,43.06 L829.60,42.83 L828.11,42.60 L826.62,42.37 L825.13,42.14 L823.64,41.91 L822.15,41.68 L820.66,41.45 L819.17,41.23 L817.68,41.00 L816.19,40.77 L814.70,40.54 L813.21,40.31 L811.72,40.08"/>
<polygon class="t" points="798.00,38.60 811.20,44.95 812.25,35.21"/>
<path class="ed" d="M461.20,233.40 L459.69,233.74 L458.19,234.09 L456.69,234.44 L455.19,234.80 L453.70,235.15 L452.21,235.51 L450.72,235.88 L449.24,236.24 L447.76,236.61 L446.28,236.98 L444.81,237.36 L443.34,237.73 L441.87,238.12 L440.40,238.50 L438.94,238.89 L437.48,239.28 L436.03,239.68 L434.57,240.08 L433.12,240.48 L431.67,240.89 L430.23,241.30 L428.78,241.72 L427.34,242.14 L425.90,242.56 L424.46,242.99 L423.03,243.42 L421.60,243.86 L420.16,244.30 L418.74,244.74 L417.31,245.19 L415.88,245.65 L414.46,246.10 L413.04,246.57 L411.62,247.04 L410.20,247.51 L408.78,247.99 L407.36,248.47 L405.95,248.96 L404.53,249.45 L403.12,249.95 L401.71,250.45 L400.30,250.96 L398.89,251.47 L397.48,251.99 L396.07,252.52 L394.67,253.05 L393.26,253.58 L391.85,254.13 L390.45,254.67 L389.04,255.23 L387.64,255.78 L386.24,256.35 L384.83,256.92 L383.43,257.50 L382.02,258.08 L380.62,258.67 L379.22,259.26 L377.81,259.86 L376.41,260.47 L375.01,261.09 L373.60,261.71 L372.20,262.33 L370.79,262.97 L369.39,263.61 L367.98,264.26 L366.58,264.91 L365.17,265.57 L363.76,266.24 L362.35,266.91 L360.94,267.60 L359.53,268.28 L358.12,268.98 L356.71,269.68 L355.30,270.40 L353.88,271.11 L352.47,271.84 L351.06,272.57 L349.65,273.32 L348.25,274.07 L346.86,274.84 L345.47,275.62 L344.10,276.41 L342.74,277.21 L341.40,278.02 L340.07,278.85 L338.76,279.69 L337.46,280.55 L336.20,281.43 L334.95,282.32 L333.73,283.23 L332.53,284.16 L331.37,285.10 L330.23,286.07 L329.13,287.05 L328.06,288.06 L327.02,289.08 L326.03,290.13 L325.07,291.20 L324.15,292.30 L323.28,293.41 L322.44,294.56 L321.66,295.73 L320.92,296.92 L320.23,298.14 L319.59,299.39 L319.01,300.66 L318.48,301.96 L318.00,303.29 L317.57,304.65 L317.20,306.02 L316.87,307.42 L316.60,308.84 L316.37,310.27 L316.19,311.72 L316.06,313.19 L315.98,314.66 L315.94,316.15 L315.95,317.65 L316.01,319.16 L316.10,320.68 L316.24,322.19 L316.43,323.72 L316.65,325.24 L316.91,326.76 L317.22,328.29 L317.56,329.80 L317.95,331.32 L318.37,332.82 L318.83,334.32 L319.32,335.81 L319.85,337.29 L320.41,338.76 L321.01,340.21 L321.64,341.65 L322.30,343.08 L322.99,344.50 L323.71,345.90 L324.46,347.29 L325.24,348.66 L326.04,350.02 L326.87,351.36 L327.72,352.69 L328.59,354.00 L329.49,355.29 L330.41,356.56 L331.35,357.82 L332.30,359.05 L333.28,360.27 L334.27,361.46 L335.28,362.64 L336.31,363.80 L337.35,364.93 L338.41,366.05 L339.49,367.14 L340.58,368.21 L341.69,369.26 L342.81,370.29 L343.94,371.30 L345.09,372.28 L346.26,373.25 L347.44,374.19 L348.63,375.11 L349.83,376.00 L351.05,376.88 L352.28,377.72 L353.52,378.55 L354.77,379.35 L356.04,380.13 L357.31,380.89 L358.60,381.62 L359.89,382.32 L361.20,383.00 L362.52,383.66"/>
<polygon class="v" points="374.60,394.60 367.55,378.10 368.56,389.13 362.52,383.66 368.56,389.13 357.48,389.22"/>
<path class="ed" d="M427.50,305.00L479.81,249.22"/>
<polygon class="t" points="489.70,239.60 476.39,245.71 483.22,252.73"/>
<path class="ed" d="M577.90,299.50L528.76,249.83"/>
<polygon class="t" points="519.50,239.60 525.13,253.12 532.39,246.54"/>
<path class="es" d="M591.00,299.50 L590.26,298.13 L589.49,296.77 L588.70,295.43 L587.89,294.11 L587.05,292.81 L586.20,291.52 L585.32,290.24 L584.43,288.98 L583.51,287.73 L582.58,286.50 L581.63,285.28 L580.66,284.08 L579.68,282.88 L578.68,281.70 L577.67,280.53 L576.64,279.37 L575.60,278.23 L574.55,277.09 L573.49,275.96 L572.41,274.84 L571.33,273.73 L570.23,272.63 L569.13,271.54 L568.02,270.45 L566.90,269.37 L565.77,268.30 L564.64,267.24 L563.50,266.18 L562.36,265.12 L561.21,264.07 L560.06,263.03 L558.91,261.99 L557.75,260.95 L556.60,259.91 L555.44,258.88 L554.29,257.85 L553.13,256.82 L551.98,255.80 L550.83,254.77 L549.68,253.75 L548.54,252.72 L547.40,251.70 L546.27,250.67"/>
<polygon class="v" points="534.30,239.60 541.17,256.17 540.28,245.13 546.27,250.67 540.28,245.13 551.36,245.16"/>
<path class="ed" d="M408.00,329.60 L407.77,331.14 L407.55,332.68 L407.32,334.22 L407.10,335.77 L406.88,337.32 L406.66,338.87 L406.45,340.42 L406.24,341.98 L406.04,343.54 L405.85,345.10 L405.67,346.66 L405.50,348.22 L405.34,349.78 L405.19,351.35 L405.06,352.91 L404.94,354.48 L404.84,356.04 L404.76,357.61 L404.69,359.17 L404.64,360.74 L404.62,362.30 L404.61,363.87 L404.63,365.43 L404.67,367.00 L404.74,368.56 L404.83,370.12 L404.95,371.68 L405.09,373.24 L405.27,374.80 L405.47,376.35 L405.71,377.91"/>
<polygon class="v" points="406.20,394.20 413.21,377.68 405.96,386.05 405.71,377.91 405.96,386.05 398.21,378.13"/>
<path class="es" d="M421.70,329.60 L421.94,331.15 L422.17,332.71 L422.41,334.27 L422.64,335.83 L422.88,337.39 L423.10,338.96 L423.32,340.52 L423.54,342.10 L423.74,343.67 L423.94,345.24 L424.13,346.82 L424.30,348.39 L424.46,349.97 L424.61,351.55 L424.74,353.13 L424.86,354.71 L424.96,356.29 L425.04,357.87 L425.11,359.45 L425.15,361.03 L425.17,362.61 L425.16,364.19 L425.13,365.77 L425.08,367.35 L425.00,368.93 L424.89,370.50 L424.76,372.07 L424.59,373.65 L424.39,375.22 L424.16,376.79 L423.90,378.35"/>
<polygon class="v" points="422.60,394.60 431.38,378.95 423.25,386.48 423.90,378.35 423.25,386.48 416.42,377.75"/>
<path class="ed" d="M570.10,334.60 L568.76,335.32 L567.42,336.04 L566.07,336.76 L564.73,337.48 L563.39,338.20 L562.05,338.92 L560.71,339.64 L559.37,340.36 L558.03,341.08 L556.69,341.80 L555.35,342.52 L554.01,343.24 L552.67,343.96 L551.33,344.68 L549.99,345.41 L548.65,346.13 L547.31,346.85 L545.97,347.57 L544.63,348.30 L543.29,349.02 L541.95,349.75 L540.61,350.47 L539.27,351.19 L537.93,351.92 L536.60,352.65 L535.26,353.37 L533.92,354.10 L532.58,354.82 L531.24,355.55 L529.91,356.28 L528.57,357.01 L527.23,357.73 L525.90,358.46 L524.56,359.19 L523.22,359.92 L521.89,360.65 L520.55,361.38 L519.22,362.11 L517.88,362.84 L516.55,363.58 L515.21,364.31 L513.88,365.04 L512.54,365.77 L511.21,366.51 L509.88,367.24 L508.54,367.97 L507.21,368.71 L505.88,369.45 L504.55,370.18 L503.21,370.92 L501.88,371.65 L500.55,372.39 L499.22,373.13 L497.89,373.87 L496.56,374.61 L495.23,375.35 L493.90,376.09 L492.57,376.83 L491.24,377.57 L489.91,378.31 L488.58,379.06 L487.25,379.80 L485.92,380.54 L484.59,381.29 L483.27,382.03 L481.94,382.78 L480.61,383.52 L479.29,384.27 L477.96,385.02 L476.64,385.77 L475.31,386.51"/>
<polygon class="v" points="461.10,394.50 478.98,393.05 468.21,390.51 475.31,386.51 468.21,390.51 471.64,379.98"/>
<text class="i" x="105.6" y="26" textLength="159.0" lengthAdjust="spacing">AbstractTilesInitializerServlet</text>
<text class="p" x="104.9" y="39" textLength="115.4" lengthAdjust="spacing">org.apache.tiles.web.startup</text>
<text class="n" x="168.1" y="122" textLength="63.4" lengthAdjust="spacing">TilesServlet</text>
<text class="p" x="168" y="135" textLength="115.7" lengthAdjust="spacing">org.apache.tiles.web.startup</text>
<text class="n" x="364" y="122" textLength="150.3" lengthAdjust="spacing">SimpleTilesInitializerServlet</text>
<text class="p" x="362.9" y="135" textLength="145.6" lengthAdjust="spacing">org.apache.tiles.web.startup.simple</text>
<text class="i" x="732.3" y="26" textLength="114.5" lengthAdjust="spacing">AbstractTilesListener</text>
<text class="p" x="732.2" y="39" textLength="115.9" lengthAdjust="spacing">org.apache.tiles.web.startup</text>
<text class="n" x="634.2" y="122" textLength="70.6" lengthAdjust="spacing">TilesListener</text>
<text class="p" x="634" y="135" textLength="115.7" lengthAdjust="spacing">org.apache.tiles.web.startup</text>
<text class="n" x="829.7" y="122" textLength="109.7" lengthAdjust="spacing">SimpleTilesListener</text>
<text class="p" x="829" y="135" textLength="145.6" lengthAdjust="spacing">org.apache.tiles.web.startup.simple</text>
<text class="n" x="1053.1" y="122" textLength="172.0" lengthAdjust="spacing">CompleteAutoloadTilesListener</text>
<text class="p" x="1052.3" y="135" textLength="134.4" lengthAdjust="spacing">org.apache.tiles.extras.complete</text>
<text class="n" x="1268.4" y="122" textLength="115.0" lengthAdjust="spacing">ModularTilesListener</text>
<text class="p" x="1267.6" y="135" textLength="126.7" lengthAdjust="spacing">org.apache.tiles.extras.module</text>
<text class="n" x="508.3" y="217" textLength="58.6" lengthAdjust="spacing"><tspan class="g">«</tspan>interface<tspan class="g">»</tspan></text>
<text class="n" x="507.9" y="230.5" textLength="73.1" lengthAdjust="spacing">TilesInitializer</text>
<text class="i" x="415.5" y="318.6" textLength="121.5" lengthAdjust="spacing">AbstractTilesInitializer</text>
<text class="n" x="602.7" y="314" textLength="117.5" lengthAdjust="spacing">ModularTilesInitializer</text>
<text class="p" x="601.4" y="327" textLength="126.5" lengthAdjust="spacing">org.apache.tiles.extras.module</text>
<text class="n" x="414.3" y="408.5" textLength="58.6" lengthAdjust="spacing"><tspan class="g">«</tspan>interface<tspan class="g">»</tspan></text>
<text class="n" x="414.4" y="425" textLength="127.1" lengthAdjust="spacing">TilesApplicationContext</text>
<text class="p" x="414.5" y="437.5" textLength="64.8" lengthAdjust="spacing">org.apache.tiles</text>
</svg>
</body></html>
